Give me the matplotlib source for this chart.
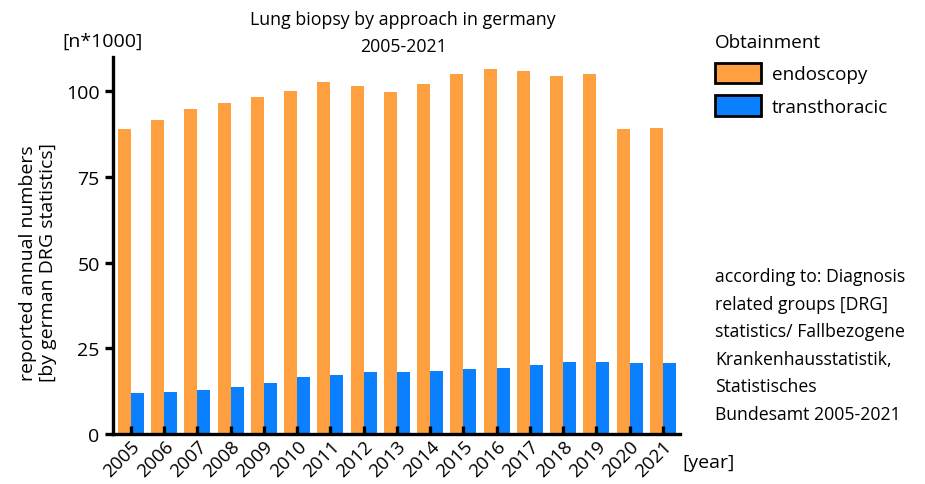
import matplotlib.pyplot as plt
from matplotlib.patches import Patch
import numpy as np

plt.rcParams['font.family'] = ['Open Sans', 'DejaVu Sans']

# === DATA (n*1000)
years = [str(y) for y in range(2005, 2022)]
endoscopy = [88.9, 91.8, 95.0, 96.5, 98.5, 100.0, 102.9, 101.7, 99.7, 102.3,
             105.2, 106.7, 106.1, 104.4, 105.2, 89.0, 89.3]
transthoracic = [12.0, 12.3, 12.8, 13.8, 14.9, 16.6, 17.2, 18.0, 18.0, 18.3,
                 19.0, 19.2, 20.2, 20.9, 21.0, 20.7, 20.7]
series_names = ['endoscopy', 'transthoracic']
colors = ['#FFA040', '#0A80FF']

fig = plt.figure(figsize=(9.25, 4.85), dpi=100)
ax = fig.add_axes([0.122, 0.103, 0.613, 0.777])

x = np.arange(len(years))
w = 0.39
ax.bar(x - w / 2, endoscopy, w, color=colors[0], edgecolor='none')
ax.bar(x + w / 2, transthoracic, w, color=colors[1], edgecolor='none')

ax.set_xlim(-0.54, len(years) - 0.49)
ax.set_ylim(0, 110)
ax.set_yticks([0, 25, 50, 75, 100])
ax.set_xticks(x)
ax.set_xticklabels(years, rotation=45, ha='right', rotation_mode='anchor')

for s in ['top', 'right']:
    ax.spines[s].set_visible(False)
for s in ['left', 'bottom']:
    ax.spines[s].set_linewidth(2.4)
ax.tick_params(axis='y', direction='out', length=6, width=2.4, labelsize=14)
ax.tick_params(axis='x', direction='in', length=6, width=2.4, labelsize=13.5, pad=2)

fig.text(0.041, 0.458, 'reported annual numbers\n[by german DRG statistics]', fontsize=14,
         rotation=90, ha='center', va='center', linespacing=1.2)
fig.text(0.067, 0.913, '[n*1000]', fontsize=14, ha='left', va='center')
fig.text(0.436, 0.931, 'Lung biopsy by approach in germany\n2005-2021', fontsize=12.8,
         ha='center', va='center', linespacing=1.62)
fig.text(0.738, 0.045, '[year]', fontsize=14, ha='left', va='center')

handles = [Patch(facecolor=c, edgecolor='black', linewidth=2) for c in colors]
leg = fig.legend(handles, series_names, title='Obtainment', loc='upper left',
                 bbox_to_anchor=(0.755, 0.965), frameon=False, fontsize=13.6,
                 title_fontsize=13.6, handlelength=2.4, handleheight=1.3,
                 labelspacing=0.62, handletextpad=0.6)
leg._legend_box.align = 'left'

fig.text(0.773, 0.447, 'according to: Diagnosis\nrelated groups [DRG]\nstatistics/ Fallbezogene\n'
         'Krankenhausstatistik,\nStatistisches\nBundesamt 2005-2021',
         fontsize=12.7, ha='left', va='top', linespacing=1.68)

fig.savefig('out.png', dpi=100)
